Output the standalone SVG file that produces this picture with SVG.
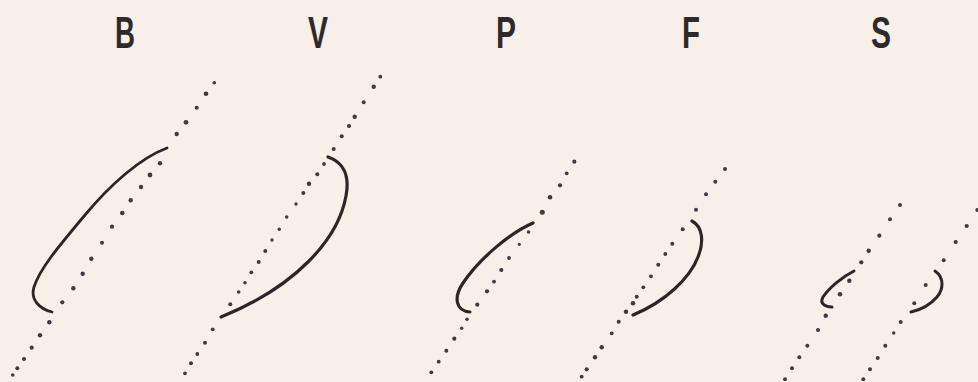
<svg xmlns="http://www.w3.org/2000/svg" width="978" height="382" viewBox="0 0 978 382">
<style>
.lbl{font-family:"Liberation Sans",Arial,sans-serif;font-weight:bold;font-size:45px;fill:#2e2a2c;text-anchor:middle}
.d circle{fill:#45363f}
.cv{fill:none;stroke:#2e2528;stroke-linecap:round;stroke-linejoin:round}
</style>
<rect width="978" height="382" fill="#f8f0e8"/>
<g id="B">
<text class="lbl" x="125" y="48" textLength="20" lengthAdjust="spacingAndGlyphs">B</text>
<g class="d">
<circle cx="214.3" cy="82.7" r="1.8"/><circle cx="206" cy="93.7" r="2.3"/><circle cx="196.7" cy="107.7" r="2"/><circle cx="186" cy="122.3" r="2.4"/><circle cx="176.7" cy="134" r="2.2"/><circle cx="160" cy="163.3" r="2.2"/><circle cx="150" cy="175" r="2.4"/><circle cx="141" cy="187" r="2.2"/><circle cx="130.7" cy="200.3" r="2.2"/><circle cx="122.3" cy="213" r="2.3"/><circle cx="112" cy="226.7" r="2.1"/><circle cx="102" cy="242.7" r="2"/><circle cx="91.3" cy="258.7" r="2.2"/><circle cx="82.7" cy="273.7" r="2.2"/><circle cx="73.3" cy="288.3" r="2.2"/><circle cx="62.3" cy="302.3" r="2.1"/><circle cx="49.3" cy="322.3" r="2.2"/><circle cx="40" cy="335.3" r="2.2"/><circle cx="31.7" cy="347.7" r="2.1"/><circle cx="24" cy="359" r="2"/><circle cx="17.3" cy="368.3" r="2"/><circle cx="12.7" cy="375" r="1.8"/>
</g>
<path class="cv" stroke-width="2.8" d="M167,148 C140,158 110,185 85,215 C60,245 40,268 34,287 C30,300 40,309 52,312"/>
</g>
<g id="V">
<text class="lbl" x="318" y="48" textLength="20" lengthAdjust="spacingAndGlyphs">V</text>
<g class="d">
<circle cx="380.3" cy="76.7" r="1.9"/><circle cx="373.7" cy="86.7" r="2.2"/><circle cx="363.7" cy="102.3" r="2"/><circle cx="354.7" cy="116.7" r="2.2"/><circle cx="349" cy="126" r="2.1"/><circle cx="341.7" cy="136.3" r="2"/><circle cx="333.7" cy="149" r="2"/><circle cx="324" cy="164" r="1.9"/><circle cx="317.3" cy="174.3" r="2"/><circle cx="309" cy="183.7" r="2.2"/><circle cx="303.3" cy="193" r="2"/><circle cx="296" cy="204" r="1.7"/><circle cx="286.7" cy="217" r="1.8"/><circle cx="279.3" cy="229.3" r="1.7"/><circle cx="272" cy="240" r="1.7"/><circle cx="265.3" cy="251" r="2"/><circle cx="258.7" cy="262" r="2"/><circle cx="251.3" cy="272.3" r="1.9"/><circle cx="245" cy="282.7" r="1.8"/><circle cx="238.7" cy="292" r="1.8"/><circle cx="230.3" cy="304.3" r="2"/><circle cx="212.7" cy="329.3" r="1.9"/><circle cx="205" cy="342.7" r="2"/><circle cx="197.3" cy="354" r="1.9"/><circle cx="191" cy="363.3" r="2"/><circle cx="185" cy="373.3" r="1.9"/>
</g>
<path class="cv" stroke-width="3.2" d="M328,157 C343,162 350,175 346,196 C338,240 295,287 221,317"/>
</g>
<g id="P">
<text class="lbl" x="506" y="48" textLength="20" lengthAdjust="spacingAndGlyphs">P</text>
<g class="d">
<circle cx="574.3" cy="161.7" r="2.1"/><circle cx="566.7" cy="173.3" r="1.9"/><circle cx="560" cy="185.3" r="2.1"/><circle cx="550" cy="197.3" r="2.3"/><circle cx="542.3" cy="212.3" r="2.5"/><circle cx="528.5" cy="232" r="1.8"/><circle cx="519.3" cy="244.3" r="1.6"/><circle cx="509" cy="258" r="1.9"/><circle cx="501.3" cy="270" r="2.1"/><circle cx="494" cy="281.7" r="1.9"/><circle cx="487" cy="291.3" r="2.1"/><circle cx="477.3" cy="304.7" r="2.1"/><circle cx="467" cy="319.3" r="1.8"/><circle cx="461.7" cy="328.3" r="1.7"/><circle cx="454.3" cy="338.7" r="2.1"/><circle cx="446.3" cy="350.7" r="2"/><circle cx="438.7" cy="361.7" r="1.9"/><circle cx="431.3" cy="372.3" r="1.9"/>
</g>
<path class="cv" stroke-width="3.2" d="M533,223 C510,233 480,258 463,283 C453,298 456,311 470,312"/>
</g>
<g id="F">
<text class="lbl" x="691" y="48" textLength="18" lengthAdjust="spacingAndGlyphs">F</text>
<g class="d">
<circle cx="725" cy="169" r="2"/><circle cx="715.3" cy="181.7" r="2"/><circle cx="706" cy="194.3" r="2"/><circle cx="696" cy="209.7" r="2"/><circle cx="682.7" cy="229.3" r="2"/><circle cx="672.3" cy="243.7" r="2"/><circle cx="665.3" cy="254" r="1.9"/><circle cx="658.3" cy="264.7" r="2"/><circle cx="651" cy="276.3" r="1.9"/><circle cx="643.3" cy="287.3" r="1.9"/><circle cx="636.7" cy="296.7" r="2"/><circle cx="633" cy="303.3" r="2.3"/><circle cx="626" cy="311.7" r="2.2"/><circle cx="618.7" cy="321.7" r="2"/><circle cx="611.7" cy="333.3" r="1.9"/><circle cx="601.7" cy="347.3" r="2.2"/><circle cx="595" cy="357.3" r="2.2"/><circle cx="586.7" cy="369.3" r="2.1"/><circle cx="581.7" cy="376.7" r="1.9"/>
</g>
<path class="cv" stroke-width="3.2" d="M692,221 C703,227 704,242 698,257 C690,278 665,302 633,315"/>
</g>
<g id="S">
<text class="lbl" x="881" y="48" textLength="20" lengthAdjust="spacingAndGlyphs">S</text>
<g class="d">
<circle cx="900" cy="205" r="2"/><circle cx="890" cy="219.3" r="2"/><circle cx="879.3" cy="235.7" r="2.1"/><circle cx="868.7" cy="250.7" r="2.2"/><circle cx="861.3" cy="262.3" r="2.1"/><circle cx="849.3" cy="280.7" r="2.2"/><circle cx="840" cy="294.3" r="2.3"/><circle cx="825.7" cy="315.7" r="2.2"/><circle cx="818" cy="330" r="2"/><circle cx="807.3" cy="345.7" r="2"/><circle cx="799.3" cy="357.3" r="2"/><circle cx="792" cy="368.3" r="2"/><circle cx="785" cy="379.3" r="2"/>
<circle cx="977.3" cy="210" r="2"/><circle cx="966.7" cy="226" r="2.1"/><circle cx="955.7" cy="242" r="2.1"/><circle cx="943.7" cy="260.3" r="2"/><circle cx="925.7" cy="285" r="2"/><circle cx="914.3" cy="303.3" r="2"/><circle cx="900.7" cy="322" r="2"/><circle cx="893.7" cy="333" r="1.7"/><circle cx="885.3" cy="345.7" r="2"/><circle cx="877.7" cy="358" r="2"/><circle cx="870" cy="369.3" r="2"/><circle cx="863.3" cy="379.3" r="2"/>
</g>
<path class="cv" stroke-width="3" d="M854,271 C842,277 829,288 823,297 C819,304 826,307 832,307"/>
<path class="cv" stroke-width="3" d="M935,271 C945,278 943,290 937,297 C930,305 920,310 911,312"/>
</g>
</svg>
